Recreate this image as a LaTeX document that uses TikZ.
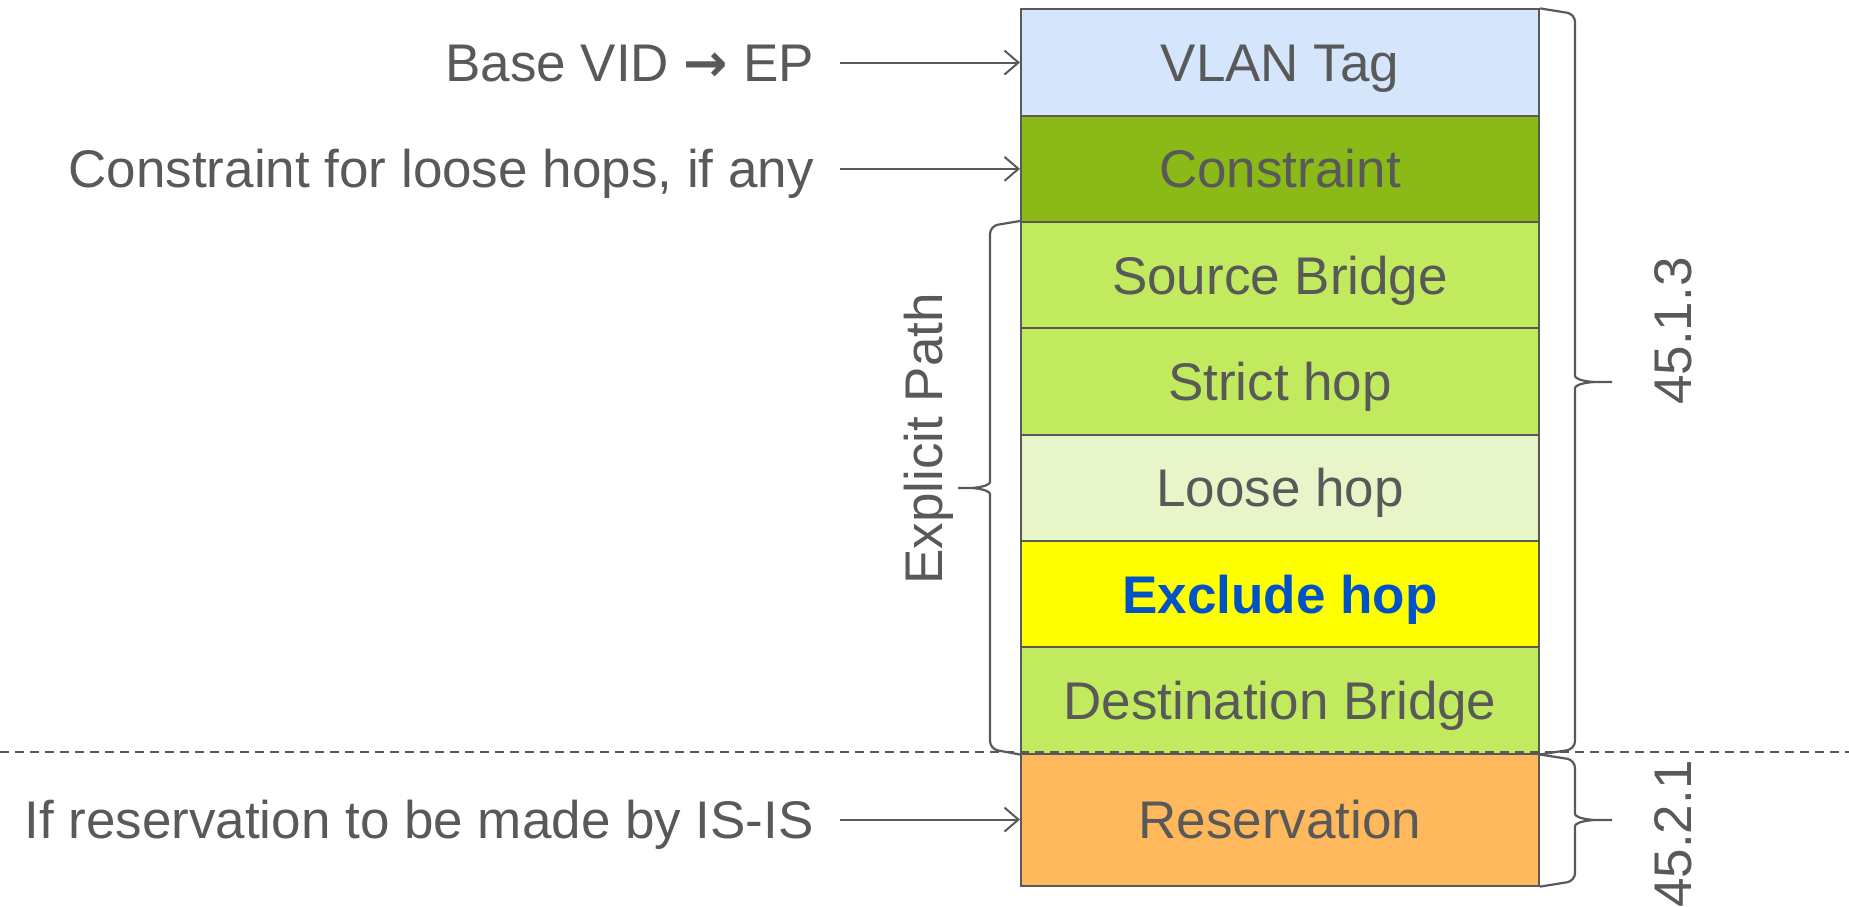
\documentclass[tikz,border=0pt]{standalone}
\usepackage{fontspec}
\setmainfont{Liberation Sans}
\newfontfamily\arrowglyph{DejaVu Sans}
\usetikzlibrary{arrows.meta}
\definecolor{ink}{HTML}{595959}
\definecolor{vlanblue}{HTML}{D5E5FB}
\definecolor{olive}{HTML}{8AB918}
\definecolor{lime}{HTML}{C2EA5E}
\definecolor{palelime}{HTML}{E8F5C9}
\definecolor{hiyellow}{HTML}{FFFF00}
\definecolor{hiblue}{HTML}{0052C6}
\definecolor{orangefill}{HTML}{FFB95C}
\begin{document}
\begin{tikzpicture}[x=1pt,y=-1pt,
  bigfont/.style={font=\fontsize{53}{64}\selectfont},
  field/.style={bigfont, draw=ink, line width=2pt, text=ink, inner sep=0pt,
    minimum width=518pt, minimum height=106.3pt, text height=38pt, text depth=0pt},
  lbl/.style={bigfont, text=ink, inner sep=0pt, text height=38pt, text depth=0pt},
  pointer/.style={draw=ink, line width=2pt, shorten <=26pt,
    -{Straight Barb[length=14pt,width=24pt,line width=2pt]}},
  bracket/.style={draw=ink, line width=2.2pt, rounded corners=8pt},
  divider/.style={draw=ink, line width=2pt, dash pattern=on 9pt off 6pt}
]
\useasboundingbox (0,0) rectangle (1849,907);

% stacked fields of the descriptor
\node[field, fill=vlanblue]   (vlan)  at (1280, 62.55)  {VLAN Tag};
\node[field, fill=olive]      (cons)  at (1280, 168.85) {Constraint};
\node[field, fill=lime]       (src)   at (1280, 275.15) {Source Bridge};
\node[field, fill=lime]       (strict) at (1280, 381.45) {Strict hop};
\node[field, fill=palelime]   (loose) at (1280, 487.75) {Loose hop};
\node[field, fill=hiyellow, text=hiblue, font=\fontsize{53}{64}\selectfont\bfseries]
                              (excl)  at (1280, 594.05) {Exclude hop};
\node[field, fill=lime]       (dest)  at (1280, 700.35) {Destination Bridge};
\node[field, fill=orangefill, minimum height=132.1pt] (res) at (1280, 819.55) {Reservation};

% separator between the two clauses
\draw[divider] (0,752) -- (1849,752);

% annotations on the left with pointers into the fields
\node[lbl, anchor=east] (nvlan) at (814, 62.55)  {Base VID {\arrowglyph\bfseries →} EP};
\node[lbl, anchor=east] (ncons) at (814, 168.85) {Constraint for loose hops, if any};
\node[lbl, anchor=east] (nres)  at (814, 819.55) {If reservation to be made by IS-IS};
\draw[pointer] (nvlan.east) -- (vlan.west);
\draw[pointer] (ncons.east) -- (cons.west);
\draw[pointer] (nres.east)  -- (res.west);

% braces grouping the fields: curled ends, pointed middle
\draw[bracket] (vlan.north east) -- (1575,14) -- (1575,368) [sharp corners]
                 .. controls (1575,378) and (1580,381) .. (1594,382) -- (1612,382)
               [rounded corners=8pt] (dest.south east) -- (1575,749) -- (1575,396) [sharp corners]
                 .. controls (1575,386) and (1580,383) .. (1594,382);
\draw[bracket] ([yshift=-2pt]res.north east) -- (1575,760) -- (1575,806) [sharp corners]
                 .. controls (1575,816) and (1580,819) .. (1594,820) -- (1612,820)
               [rounded corners=8pt] (res.south east) -- (1575,881) -- (1575,834) [sharp corners]
                 .. controls (1575,824) and (1580,821) .. (1594,820);
\draw[bracket] (src.north west) -- (990,226) -- (990,474) [sharp corners]
                 .. controls (990,484) and (985,487) .. (972,488) -- (958,488)
               [rounded corners=8pt] (dest.south west) -- (990,749) -- (990,502) [sharp corners]
                 .. controls (990,492) and (985,489) .. (972,488);

% brace captions
\node[lbl, rotate=90] (c1) at (1672, 331) {45.1.3};
\node[lbl, rotate=90] (c2) at (1672, 834) {45.2.1};
\node[lbl, rotate=90] (c3) at (923, 439)  {Explicit Path};
\end{tikzpicture}
\end{document}
